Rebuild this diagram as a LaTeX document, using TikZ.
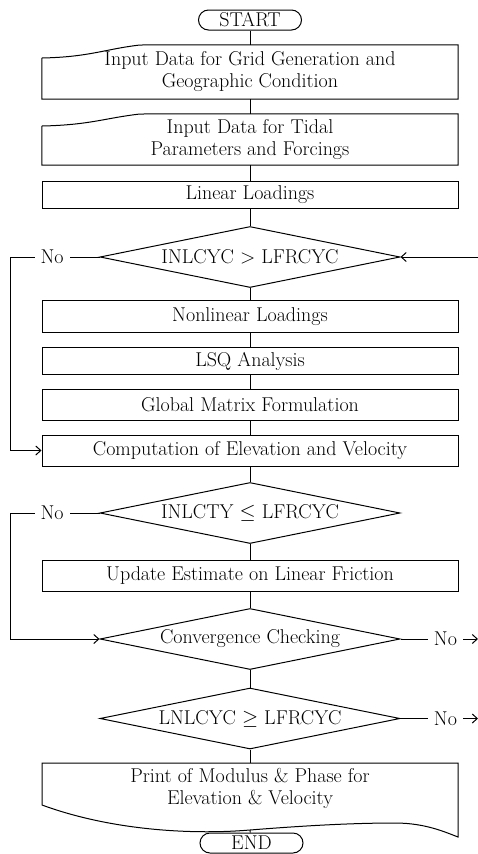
\documentclass[tikz,border=0pt]{standalone}
\usetikzlibrary{shapes.geometric,arrows.meta}
\begin{document}
\begin{tikzpicture}[x=1pt,y=-1pt,
  every node/.style={font=\fontsize{20}{22}\selectfont},
  line/.style={line width=1pt},
  arr/.style={line width=1pt,-{Straight Barb[length=5pt,width=9pt]}},
  term/.style={draw,line width=1pt,rounded corners=10pt,minimum width=103pt,minimum height=20pt,inner sep=0pt},
  proc/.style={draw,line width=1pt,minimum width=416pt,inner sep=0pt},
  frame/.style={minimum width=416pt,inner sep=0pt,align=center},
  dec/.style={draw,line width=1pt,diamond,aspect=4.9,minimum width=300pt,minimum height=61pt,inner sep=0pt},
  lbl/.style={fill=white,inner xsep=6pt,inner ysep=1pt}]
\useasboundingbox (0,0) rectangle (478,854);

% nodes
\node[term] (start) at (250,20) {START};
\node[frame,minimum height=54pt] (in1) at (250,72) {Input Data for Grid Generation and\\Geographic Condition};
\node[frame,minimum height=51pt] (in2) at (250,139.5) {Input Data for Tidal\\Parameters and Forcings};
\node[proc,minimum height=27pt] (lin) at (250,195) {Linear Loadings};
\node[dec] (d1) at (250,257) {INLCYC > LFRCYC};
\node[proc,minimum height=32pt] (nonlin) at (250,316.5) {Nonlinear Loadings};
\node[proc,minimum height=27pt] (lsq) at (250,361) {LSQ Analysis};
\node[proc,minimum height=31pt] (glob) at (250,404.5) {Global Matrix Formulation};
\node[proc,minimum height=31pt] (comp) at (250,450.5) {Computation of Elevation and Velocity};
\node[dec] (d2) at (250,513) {INLCTY $\leq$ LFRCYC};
\node[proc,minimum height=31pt] (upd) at (250,576) {Update Estimate on Linear Friction};
\node[dec] (d3) at (250,639) {Convergence Checking};
\node[dec] (d4) at (250,718.5) {LNLCYC $\geq$ LFRCYC};
\node[align=center,inner sep=0pt] (prt) at (250,788) {Print of Modulus \& Phase for\\Elevation \& Velocity};
\node[term] (end) at (251.5,843) {END};

% outlines of input shapes
\draw[line] (in1.south west) -- (in1.south east) -- (in1.north east) -- (140,45)
  .. controls (105,49) and (90,57) .. (42,58) -- cycle;
\draw[line] (in2.south west) -- (in2.south east) -- (in2.north east) -- (140,114)
  .. controls (105,118) and (90,125) .. (42,126) -- cycle;
% document shape
\coordinate (ptop) at (250,763);
\coordinate (pbot) at (250,830);
\draw[line] (42,763) -- (458,763) -- (458,837)
  .. controls (445,832) and (425,823) .. (395,823)
  .. controls (350,823) and (300,826) .. (250,830)
  .. controls (190,835) and (110,830) .. (42,805) -- cycle;

% main flow
\draw[line] (start) -- (in1);
\draw[line] (in1) -- (in2);
\draw[line] (in2) -- (lin);
\draw[line] (lin) -- (d1);
\draw[line] (d1) -- (nonlin);
\draw[line] (nonlin) -- (lsq);
\draw[line] (lsq) -- (glob);
\draw[line] (glob) -- (comp);
\draw[line] (comp) -- (d2);
\draw[line] (d2) -- (upd);
\draw[line] (upd) -- (d3);
\draw[line] (d3) -- (d4);
\draw[line] (d4) -- (ptop);
\draw[line] (pbot) -- (end);

% side branches
\coordinate (l1) at (10,257);
\coordinate (l2) at (10,513);
\coordinate (r1) at (478,257);
\coordinate (r3) at (478,639);
\coordinate (r4) at (478,718.5);
\draw[arr] (d1.west) -- node[lbl,pos=0.53]{No} (l1) |- (comp.west);
\draw[arr] (d2.west) -- node[lbl,pos=0.53]{No} (l2) |- (d3.west);
\draw[arr] (r1) -- (d1.east);
\draw[arr] (d3.east) -- node[lbl,pos=0.58]{No} (r3);
\draw[arr] (d4.east) -- node[lbl,pos=0.58]{No} (r4);
\end{tikzpicture}
\end{document}
